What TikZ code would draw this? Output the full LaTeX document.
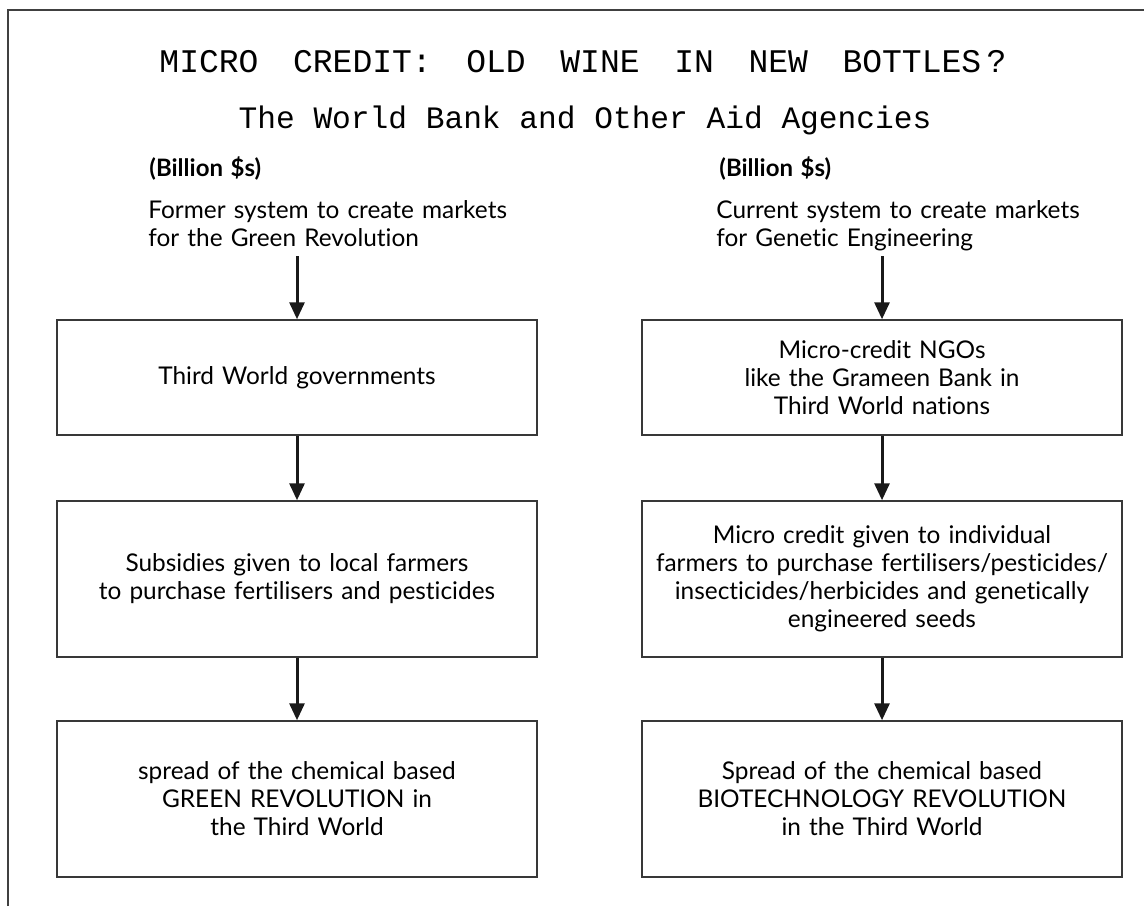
\documentclass[tikz,border=0pt]{standalone}
\usepackage{fontspec}
\setmainfont[WordSpace=1.3,Ligatures={NoCommon,NoRequired}]{Lato}
\newfontfamily\titlefont{Liberation Mono}
\newcommand\titleface{\titlefont\fontsize{16.5}{20}\selectfont\spaceskip1.05em\relax}
\usetikzlibrary{arrows.meta}

\begin{document}
\begin{tikzpicture}[x=0.5pt,y=-0.5pt,
  stage/.style={draw=black!78,line width=0.75pt,minimum width=240pt,align=center,inner sep=0pt,font=\fontsize{12.2}{14}\selectfont},
  intro/.style={anchor=north west,align=left,inner sep=0pt,font=\fontsize{12.2}{14}\selectfont},
  unit/.style={anchor=base west,inner sep=0pt,font=\bfseries\fontsize{12}{14}\selectfont},
  flow/.style={-{Triangle[width=7.5pt,length=8.5pt]},line width=1.5pt,black!90}]
\useasboundingbox (0,0) rectangle (1144,906);

\draw[black!75,line width=0.75pt] (8,906) -- (8,10) -- (1144,10);

\node[anchor=base,inner sep=0pt,font=\titleface] (title) at (583,72) {MICRO CREDIT: OLD WINE IN NEW BOTTLES\,?};
\node[anchor=base,inner sep=0pt,font=\titlefont\fontsize{15.6}{20}\selectfont] (subtitle) at (585,128) {The World Bank and Other Aid Agencies};

\node[unit] (unitleft) at (149,176) {(Billion \$s)};
\node[unit] (unitright) at (719,176) {(Billion \$s)};

\node[intro] (former) at (148,200) {Former system to create markets\\for the Green Revolution};
\node[intro] (current) at (716,200) {Current system to create markets\\for Genetic Engineering};

\node[stage,minimum height=57.5pt] (gov) at (297,377.5) {Third World governments};
\node[stage,minimum height=78pt] (subsidy) at (297,579) {Subsidies given to local farmers\\to purchase fertilisers and pesticides};
\node[stage,minimum height=78pt] (green) at (297,799) {spread of the chemical based\\GREEN REVOLUTION in\\the Third World};

\node[stage,minimum height=57.5pt] (ngo) at (882,377.5) {Micro-credit NGOs\\like the Grameen Bank in\\Third World nations};
\node[stage,minimum height=78pt] (credit) at (882,579) {Micro credit given to individual\\farmers to purchase fertilisers/pesticides/\\insecticides/herbicides and genetically\\engineered seeds};
\node[stage,minimum height=78pt] (biotech) at (882,799) {Spread of the chemical based\\BIOTECHNOLOGY REVOLUTION\\in the Third World};

\coordinate (fromformer) at (297,256);
\coordinate (fromcurrent) at (882,256);

\draw[flow] (fromformer) -- (gov);
\draw[flow] (gov) -- (subsidy);
\draw[flow] (subsidy) -- (green);
\draw[flow] (fromcurrent) -- (ngo);
\draw[flow] (ngo) -- (credit);
\draw[flow] (credit) -- (biotech);
\end{tikzpicture}
\end{document}
